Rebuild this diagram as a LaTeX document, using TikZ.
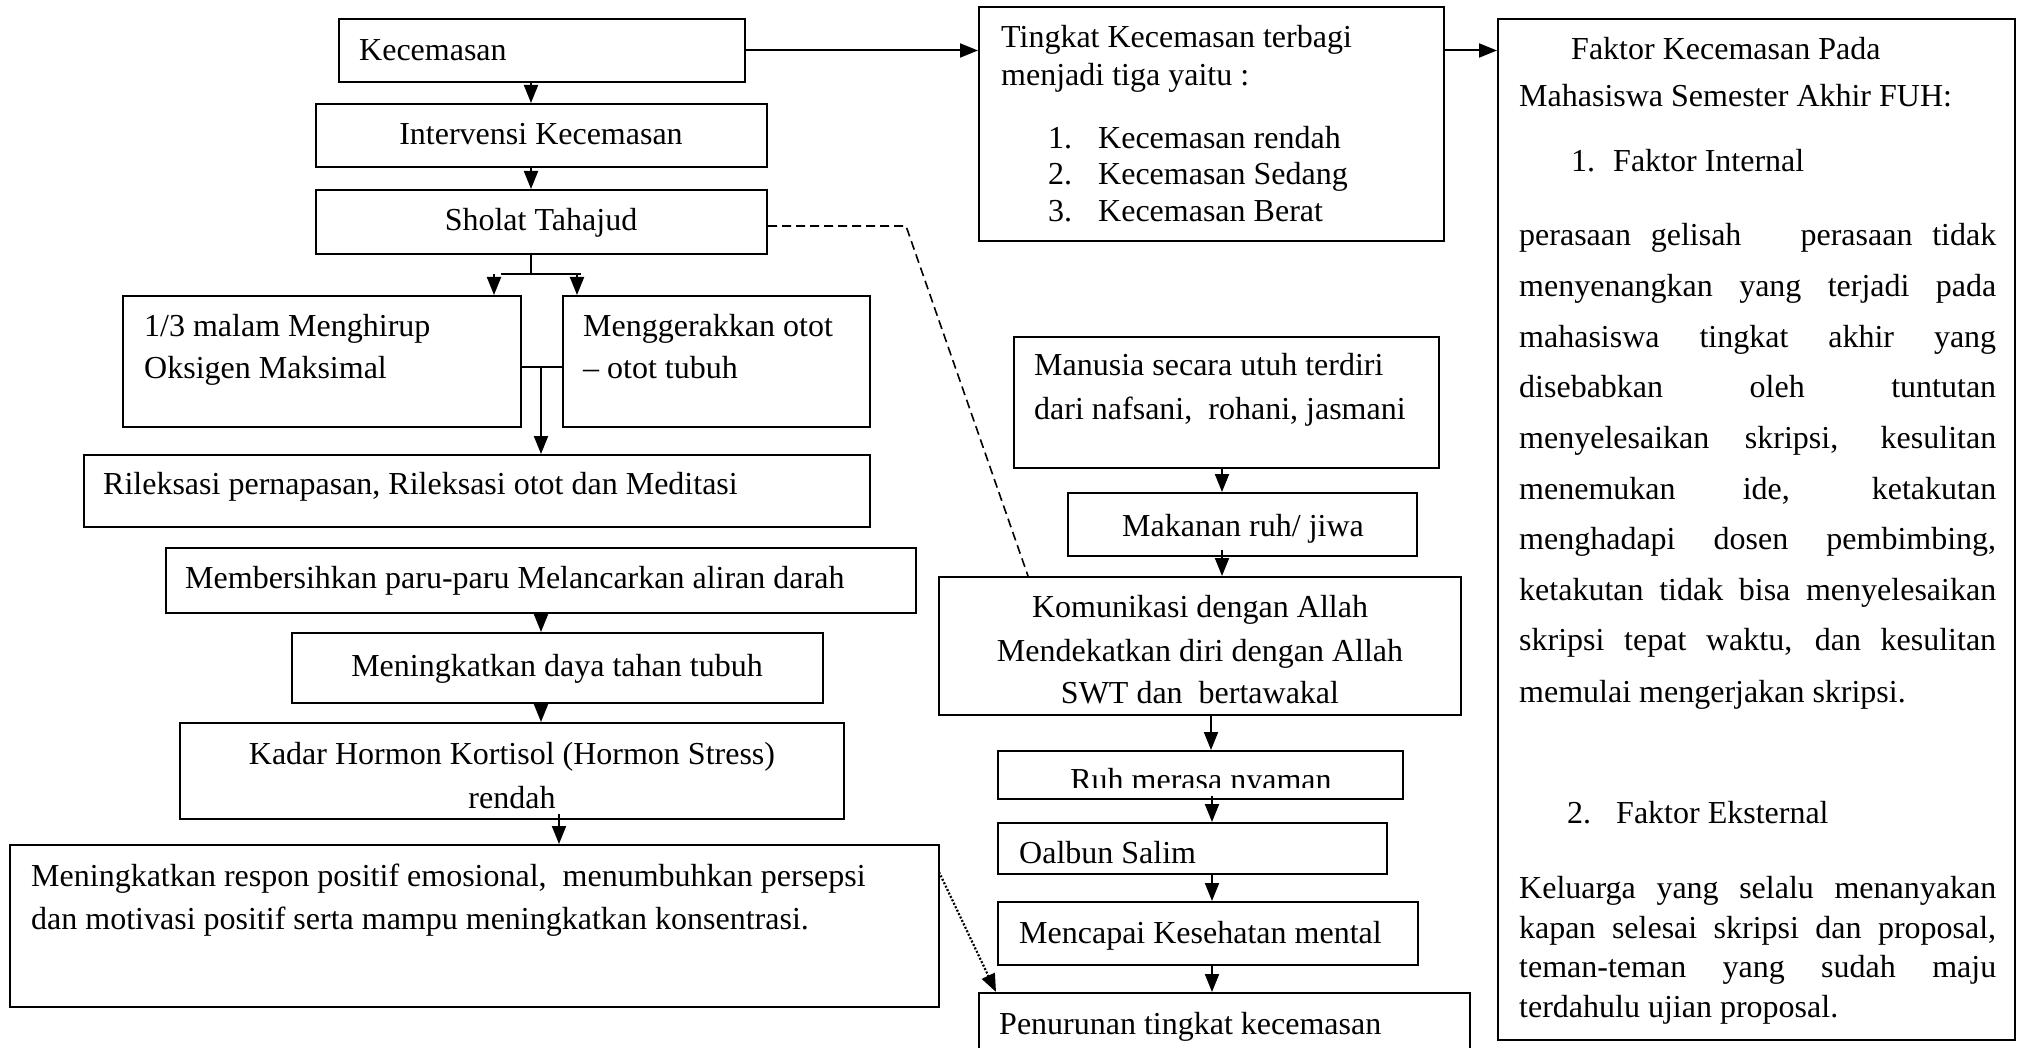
\documentclass[tikz,border=0pt]{standalone}
\usepackage{fontspec}
\setmainfont{Liberation Serif}
\usetikzlibrary{fit,arrows.meta}
\tikzset{
  box/.style={draw, line width=2pt, inner sep=0pt, rectangle},
  txt/.style={inner sep=0pt, font=\fontsize{32}{38}\selectfont},
  arr/.style={line width=2pt, -{Triangle[length=18pt,width=14pt]}},
  ln/.style={line width=2pt},
  dashln/.style={line width=1.6pt, dash pattern=on 9pt off 5pt},
  dotarr/.style={line width=2.2pt, dash pattern=on 2pt off 1.8pt, -{Triangle[length=18pt,width=14pt]}}
}
\begin{document}
\begin{tikzpicture}[x=1pt,y=-1pt]
\useasboundingbox (0,0) rectangle (2018,1048);
% boxes
\node[box, fit={(339,19) (745,82)}] (kec) {};
\node[box, fit={(316,104) (767,167)}] (int) {};
\node[box, fit={(316,190) (767,254)}] (sho) {};
\node[box, fit={(123,296) (521,427)}] (boxA) {};
\node[box, fit={(563,296) (870,427)}] (boxB) {};
\node[box, fit={(84,455) (870,527)}] (ril) {};
\node[box, fit={(166,548) (916,613)}] (mem) {};
\node[box, fit={(292,633) (823,703)}] (daya) {};
\node[box, fit={(180,723) (844,819)}] (kad) {};
\node[box, fit={(10,845) (939,1007)}] (res) {};
\node[box, fit={(979,7) (1444,241)}] (ting) {};
\node[box, fit={(1498,19) (2015,1040)}] (fak) {};
\node[box, fit={(1014,337) (1439,468)}] (man) {};
\node[box, fit={(1068,493) (1417,556)}] (mak) {};
\node[box, fit={(939,577) (1461,715)}] (kom) {};
\node[box, fit={(998,751) (1403,799)}] (ruh) {};
\node[box, fit={(998,823) (1387,874)}] (oal) {};
\node[box, fit={(998,902) (1418,965)}] (mcp) {};
\node[box, fit={(979,993) (1470,1075)}] (pen) {};

% texts
\node[txt, anchor=base west] (tkec) at (359,61) {Kecemasan};
\node[txt, anchor=base] (tint) at (541,145) {Intervensi Kecemasan};
\node[txt, anchor=base] (tsho) at (541,231) {Sholat Tahajud};
\node[txt, anchor=base west] (tA1) at (144,337) {1/3 malam Menghirup};
\node[txt, anchor=base west] (tA2) at (144,378) {Oksigen Maksimal};
\node[txt, anchor=base west] (tB1) at (583,337) {Menggerakkan otot};
\node[txt, anchor=base west] (tB2) at (583,378) {– otot tubuh};
\node[txt, anchor=base west] (tril) at (103,494) {Rileksasi pernapasan, Rileksasi otot dan Meditasi};
\node[txt, anchor=base west] (tmem) at (185,588) {Membersihkan paru-paru Melancarkan aliran darah};
\node[txt, anchor=base] (tdaya) at (557,676) {Meningkatkan daya tahan tubuh};
\node[txt, anchor=base] (tkad1) at (512,764) {Kadar Hormon Kortisol (Hormon Stress)};
\node[txt, anchor=base] (tkad2) at (512,808) {rendah};
\node[txt, anchor=base west] (tres1) at (31,886) {Meningkatkan respon positif emosional,\ \ menumbuhkan persepsi};
\node[txt, anchor=base west] (tres2) at (31,929) {dan motivasi positif serta mampu meningkatkan konsentrasi.};
\node[txt, anchor=base west] (tman1) at (1034,376) {Manusia secara utuh terdiri};
\node[txt, anchor=base west] (tman2) at (1034,419) {dari nafsani,\ \ rohani, jasmani};
\node[txt, anchor=base] (tmak) at (1243,536) {Makanan ruh/ jiwa};
\node[txt, anchor=base] (tkom1) at (1200,617) {Komunikasi dengan Allah};
\node[txt, anchor=base] (tkom2) at (1200,661) {Mendekatkan diri dengan Allah};
\node[txt, anchor=base] (tkom3) at (1200,703) {SWT dan\ \ bertawakal};
\begin{scope}
\clip (998,751) rectangle (1403,787);
\node[txt, anchor=base] (truh) at (1201,790) {Ruh merasa nyaman};
\end{scope}
\node[txt, anchor=base west] (toal) at (1019,863) {Oalbun Salim};
\node[txt, anchor=base west] (tmcp) at (1019,943) {Mencapai Kesehatan mental};
\node[txt, anchor=base west] (tpen) at (999,1034) {Penurunan tingkat kecemasan};

\node[txt, anchor=base west] (tt1) at (1001,48) {Tingkat Kecemasan terbagi};
\node[txt, anchor=base west] (tt2) at (1001,86) {menjadi tiga yaitu :};
\node[txt, anchor=base west] (tn1) at (1048,149) {1.};
\node[txt, anchor=base west] (tl1) at (1098,149) {Kecemasan rendah};
\node[txt, anchor=base west] (tn2) at (1048,185) {2.};
\node[txt, anchor=base west] (tl2) at (1098,185) {Kecemasan Sedang};
\node[txt, anchor=base west] (tn3) at (1048,222) {3.};
\node[txt, anchor=base west] (tl3) at (1098,222) {Kecemasan Berat};

\node[txt, anchor=base west] (tf1) at (1571,60) {Faktor Kecemasan Pada};
\node[txt, anchor=base west] (tf2) at (1519,107) {Mahasiswa Semester Akhir FUH:};
\node[txt, anchor=base west] (tfn1) at (1571,172) {1.};
\node[txt, anchor=base west] (tfi) at (1613,172) {Faktor Internal};
\foreach \t [count=\i from 0] in {%
  {perasaan gelisah\ \ \ perasaan tidak},
  {menyenangkan yang terjadi pada},
  {mahasiswa tingkat akhir yang},
  {disebabkan oleh tuntutan},
  {menyelesaikan skripsi, kesulitan},
  {menemukan ide, ketakutan},
  {menghadapi dosen pembimbing,},
  {ketakutan tidak bisa menyelesaikan},
  {skripsi tepat waktu, dan kesulitan}}
  \node[txt, anchor=base west] (ip\i) at (1519,{246+50.6*\i}) {\makebox[477pt][s]{\t}};
\node[txt, anchor=base west] (ip9) at (1519,702) {memulai mengerjakan skripsi.};
\node[txt, anchor=base west] (tfn2) at (1567,823) {2.};
\node[txt, anchor=base west] (tfe) at (1616,823) {Faktor Eksternal};
\node[txt, anchor=base west] (ek0) at (1519,898) {\makebox[477pt][s]{Keluarga yang selalu menanyakan}};
\node[txt, anchor=base west] (ek1) at (1519,938) {\makebox[477pt][s]{kapan selesai skripsi dan proposal,}};
\node[txt, anchor=base west] (ek2) at (1519,977) {\makebox[477pt][s]{teman-teman yang sudah maju}};
\node[txt, anchor=base west] (ek3) at (1519,1017) {terdahulu ujian proposal.};

% connectors
\draw[arr] (kec.east) -- (kec.east -| ting.west);
\draw[arr] (kec.east -| ting.east) -- (kec.east -| fak.west);
\draw[arr] ([xshift=-11pt]kec.south) -- ([xshift=-11pt]kec.south |- int.north);
\draw[arr] ([xshift=-10.5pt]int.south) -- ([xshift=-10.5pt]int.south |- sho.north);
\coordinate (sp) at (531,274);
\coordinate (spl) at (501,274);
\coordinate (spr) at (581,274);
\draw[ln] (sp |- sho.south) -- (sp);
\draw[ln] (spl) -- (spr);
\draw[arr] ([xshift=-7pt]spl) -- ([xshift=-7pt]spl |- boxA.north);
\draw[arr] ([xshift=-4pt]spr) -- ([xshift=-4pt]spr |- boxB.north);
\coordinate (mid) at (541,367);
\draw[ln] (boxA.east |- mid) -- (boxB.west |- mid);
\draw[arr] (mid) -- (mid |- ril.north);
\draw[arr] (mem.south) -- (mem.south |- daya.north);
\draw[arr] (mem.south |- daya.south) -- (mem.south |- kad.north);
\coordinate (kr) at (559,814);
\draw[arr] (kr) -- (kr |- res.north);
\coordinate (rs) at (939,872);
\draw[dotarr] (rs) -- ([xshift=18pt]pen.north west);
\coordinate (db) at (906,226);
\draw[dashln] ([yshift=-4pt]sho.east) -- (db) -- ([xshift=90pt]kom.north west);
\draw[arr] ([xshift=-4.5pt]man.south) -- ([xshift=-4.5pt]man.south |- mak.north);
\coordinate (mk) at (1222,550);
\draw[arr] (mk) -- (mk |- kom.north);
\draw[arr] ([xshift=11pt]kom.south) -- ([xshift=11pt]kom.south |- ruh.north);
\coordinate (ro) at (1212,796);
\draw[arr] (ro) -- (ro |- oal.north);
\draw[arr] (ro |- oal.south) -- (ro |- mcp.north);
\draw[arr] (ro |- mcp.south) -- (ro |- pen.north);
\end{tikzpicture}
\end{document}
